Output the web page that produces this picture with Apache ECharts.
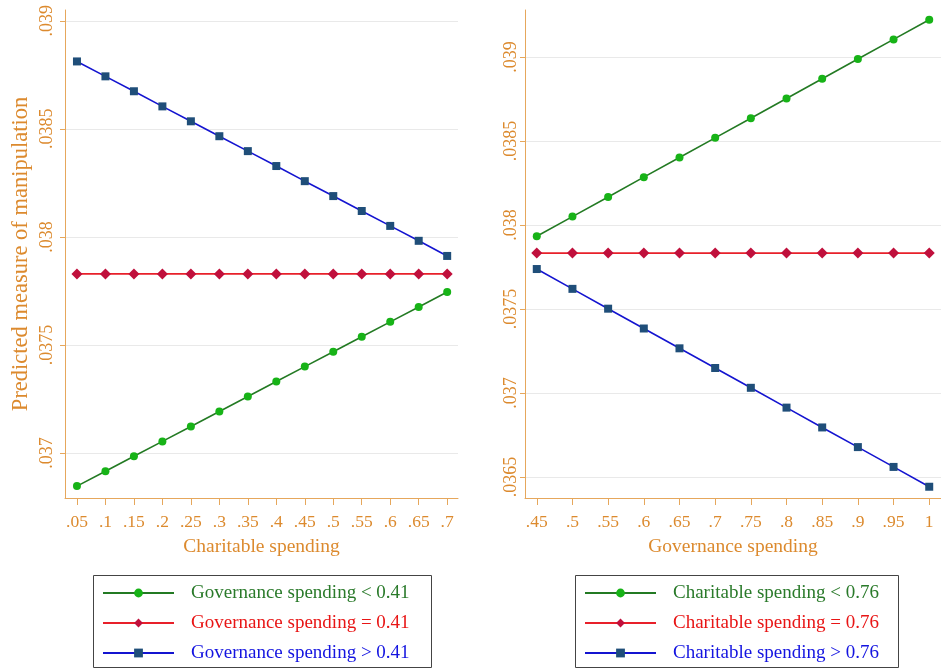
<!DOCTYPE html>
<html>
<head>
<meta charset="utf-8">
<script src="https://cdn.jsdelivr.net/npm/echarts@6/dist/echarts.min.js"></script>
<style>html,body{margin:0;padding:0;background:#fff}#c{width:941px;height:671px}</style>
</head>
<body>
<div id="c"></div>
<script>
// ---- data ----
const xLeft = [0.05,0.1,0.15,0.2,0.25,0.3,0.35,0.4,0.45,0.5,0.55,0.6,0.65,0.7];
const leftLow  = [0.036847,0.036916,0.036985,0.037054,0.037123,0.037192,0.037262,0.037331,0.037400,0.037469,0.037538,0.037607,0.037676,0.037745];
const leftEq   = [0.037829,0.037829,0.037829,0.037829,0.037829,0.037829,0.037829,0.037829,0.037829,0.037829,0.037829,0.037829,0.037829,0.037829];
const leftHigh = [0.038812,0.038743,0.038674,0.038604,0.038535,0.038466,0.038397,0.038328,0.038258,0.038189,0.038120,0.038051,0.037982,0.037912];

const xRight = [0.45,0.5,0.55,0.6,0.65,0.7,0.75,0.8,0.85,0.9,0.95,1];
const rightLow  = [0.037933,0.038050,0.038167,0.038285,0.038402,0.038519,0.038636,0.038753,0.038871,0.038988,0.039105,0.039222];
const rightEq   = [0.037833,0.037833,0.037833,0.037833,0.037833,0.037833,0.037833,0.037833,0.037833,0.037833,0.037833,0.037833];
const rightHigh = [0.037738,0.037620,0.037502,0.037384,0.037266,0.037149,0.037031,0.036913,0.036795,0.036678,0.036560,0.036442];

const yTicksLeft  = [0.037,0.0375,0.038,0.0385,0.039];
const yTicksRight = [0.0365,0.037,0.0375,0.038,0.0385,0.039];
const xTicksLeft  = xLeft;
const xTicksRight = xRight;

const namesLeft  = ['Governance spending < 0.41','Governance spending = 0.41','Governance spending > 0.41'];
const namesRight = ['Charitable spending < 0.76','Charitable spending = 0.76','Charitable spending > 0.76'];

// ---- styles ----
const FONT = 'Liberation Serif';
const ORANGE = '#dc8a2e';
const AXIS = '#e6a75c';
const GRIDC = '#e9e9e9';
const sty = [
  {symbol:'circle', size:8, line:'#237a23', mark:'#17b317', text:'#2a7a2a'},
  {symbol:'diamond', size:11, line:'#e8202a', mark:'#c0103c', text:'#e81515'},
  {symbol:'rect', size:8, line:'#1414d0', mark:'#1f4e79', text:'#1414e0'}
];
const fmt = v => String(v).replace(/^0/, '');

function xAx(idx, min, max, ticks, name) {
  return {
    type:'value', gridIndex:idx, min:min, max:max,
    name:name, nameLocation:'middle', nameGap:39,
    nameTextStyle:{fontFamily:FONT, fontSize:19.5, color:ORANGE},
    axisLine:{show:true, lineStyle:{color:AXIS, width:1}},
    axisTick:{show:true, length:7, customValues:ticks, lineStyle:{color:AXIS}},
    axisLabel:{customValues:ticks, formatter:fmt, fontFamily:FONT, fontSize:17.5, color:ORANGE, margin:15},
    splitLine:{show:false}
  };
}
function yAx(idx, min, max, ticks, name, margin) {
  return {
    type:'value', gridIndex:idx, min:min, max:max,
    name:name, nameLocation:'middle', nameGap:32, nameRotate:90,
    nameTextStyle:{fontFamily:FONT, fontSize:22.5, color:ORANGE},
    axisLine:{show:true, lineStyle:{color:AXIS, width:1}},
    axisTick:{show:true, length:5, customValues:ticks, lineStyle:{color:AXIS}},
    axisLabel:{customValues:ticks, formatter:fmt, rotate:90, fontFamily:FONT, fontSize:18, color:ORANGE, margin:margin},
    splitLine:{show:true, lineStyle:{color:GRIDC, width:1.2}}
  };
}
function ser(name, i, xIdx, xs, ys) {
  const s = sty[i];
  return {
    name:name, type:'line', xAxisIndex:xIdx, yAxisIndex:xIdx,
    data: xs.map((x,k)=>[x, ys[k]]),
    symbol:s.symbol, symbolSize:s.size, showSymbol:true,
    lineStyle:{color:s.line, width:1.6},
    itemStyle:{color:s.mark},
    emphasis:{disabled:true}, animation:false, clip:false
  };
}
function leg(names, left) {
  return {
    orient:'vertical', left:left, top:583, padding:0,
    itemWidth:71, itemHeight:11, itemGap:10,
    textStyle:{fontFamily:FONT, fontSize:19, lineHeight:20, padding:[0,0,0,12]},
    data: names.map((n,i)=>({name:n, textStyle:{color:sty[i].text}})),
    selectedMode:false
  };
}

const chart = echarts.init(document.getElementById('c'), null, {renderer:'canvas'});
chart.setOption({
  backgroundColor:'#fff',
  animation:false,
  grid:[
    {left:65, top:10, width:393, height:488},
    {left:525, top:10, width:425, height:488}
  ],
  xAxis:[
    xAx(0, 0.029, 0.719, xTicksLeft, 'Charitable spending'),
    xAx(1, 0.4335, 1.0165, xTicksRight, 'Governance spending')
  ],
  yAxis:[
    yAx(0, 0.036792, 0.03905, yTicksLeft, 'Predicted measure of manipulation', 9),
    yAx(1, 0.036375, 0.03928, yTicksRight, '', 5)
  ],
  legend:[leg(namesLeft, 102), leg(namesRight, 584)],
  graphic:[
    {type:'rect', shape:{x:93.5, y:575.5, width:338, height:92}, style:{fill:'none', stroke:'#444', lineWidth:1}, silent:true},
    {type:'rect', shape:{x:575.5, y:575.5, width:323, height:92}, style:{fill:'none', stroke:'#444', lineWidth:1}, silent:true}
  ],
  series:[
    ser(namesLeft[0],0,0,xLeft,leftLow),
    ser(namesLeft[1],1,0,xLeft,leftEq),
    ser(namesLeft[2],2,0,xLeft,leftHigh),
    ser(namesRight[0],0,1,xRight,rightLow),
    ser(namesRight[1],1,1,xRight,rightEq),
    ser(namesRight[2],2,1,xRight,rightHigh)
  ]
});
</script>
</body>
</html>
